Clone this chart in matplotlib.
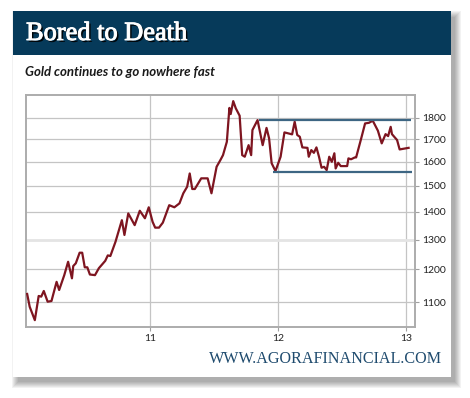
import matplotlib.pyplot as plt
import matplotlib.patheffects as pe
from matplotlib.patches import Rectangle
from matplotlib.ticker import NullLocator

# gold price (decimal year, $/oz)
years = [2010.04, 2010.06, 2010.10, 2010.13, 2010.15, 2010.17, 2010.20, 2010.23, 2010.27, 2010.29,
         2010.33, 2010.36, 2010.39, 2010.40, 2010.42, 2010.45, 2010.47, 2010.49, 2010.51, 2010.53,
         2010.57, 2010.60, 2010.65, 2010.67, 2010.69, 2010.73, 2010.78, 2010.80, 2010.83, 2010.88,
         2010.92, 2010.96, 2010.99, 2011.02, 2011.04, 2011.07, 2011.10, 2011.15, 2011.19, 2011.23,
         2011.26, 2011.29, 2011.31, 2011.33, 2011.35, 2011.40, 2011.45, 2011.48, 2011.52, 2011.55,
         2011.57, 2011.60, 2011.62, 2011.63, 2011.65, 2011.67, 2011.70, 2011.72, 2011.74, 2011.77,
         2011.79, 2011.80, 2011.84, 2011.88, 2011.91, 2011.93, 2011.95, 2011.98, 2012.02, 2012.05,
         2012.11, 2012.13, 2012.15, 2012.17, 2012.19, 2012.23, 2012.24, 2012.26, 2012.28, 2012.30,
         2012.32, 2012.34, 2012.36, 2012.38, 2012.40, 2012.42, 2012.44, 2012.45, 2012.47, 2012.49,
         2012.54, 2012.55, 2012.57, 2012.60, 2012.61, 2012.65, 2012.68, 2012.71, 2012.74, 2012.78,
         2012.81, 2012.84, 2012.86, 2012.88, 2012.89, 2012.93, 2012.95, 2013.02]
prices = [1124, 1086, 1048, 1118, 1116, 1133, 1101, 1103, 1161, 1136,
          1182, 1225, 1172, 1211, 1220, 1255, 1255, 1207, 1207, 1184,
          1182, 1204, 1228, 1246, 1244, 1292, 1369, 1316, 1394, 1351,
          1404, 1376, 1417, 1363, 1342, 1342, 1360, 1425, 1417, 1432,
          1471, 1497, 1551, 1488, 1488, 1531, 1531, 1471, 1579, 1608,
          1629, 1688, 1848, 1818, 1882, 1846, 1810, 1629, 1622, 1673,
          1629, 1742, 1789, 1673, 1752, 1704, 1594, 1561, 1622, 1731,
          1722, 1781, 1719, 1711, 1663, 1661, 1622, 1651, 1639, 1663,
          1622, 1575, 1579, 1565, 1622, 1600, 1637, 1572, 1596, 1582,
          1582, 1615, 1611, 1619, 1619, 1704, 1773, 1776, 1786, 1739,
          1681, 1723, 1714, 1757, 1723, 1696, 1654, 1661]

# trading range
range_top = 1790
range_top_span = (2011.85, 2013.04)
range_bottom = 1558
range_bottom_span = (2011.96, 2013.05)

xticks = [2011, 2012, 2013]
xtick_labels = ['11', '12', '13']
yticks = [1100, 1200, 1300, 1400, 1500, 1600, 1700, 1800]
ytick_labels = [str(v) for v in yticks]

W, H = 470, 398
fig = plt.figure(figsize=(W / 100, H / 100), dpi=100)


def box(x0, y0, x1, y1):
    return (x0 / W, 1 - y1 / H), (x1 - x0) / W, (y1 - y0) / H


# card shadow, mostly to the right and below
for i in range(7):
    xy, w, h = box(13 + 5 - i, 11 + 6 - i, 451 + 4 + i, 377 + 5 + i)
    fig.patches.append(Rectangle(xy, w, h, transform=fig.transFigure,
                                 color='black', alpha=0.05, lw=0, zorder=0))
xy, w, h = box(13, 11, 451, 377)
fig.patches.append(Rectangle(xy, w, h, transform=fig.transFigure, color='white', lw=0, zorder=1))
xy, w, h = box(13, 11, 451, 55)
fig.patches.append(Rectangle(xy, w, h, transform=fig.transFigure, color='#063a5a', lw=0, zorder=2))

fig.text(26 / W, 1 - 34 / H, 'Bored to Death', family='Liberation Serif', size=19,
         color='white', va='center', zorder=3,
         path_effects=[pe.SimplePatchShadow(offset=(1.4, -1.4), shadow_rgbFace='black', alpha=0.9),
                       pe.Stroke(linewidth=0.7, foreground='white'), pe.Normal()])
fig.text(25 / W, 1 - 72 / H, 'Gold continues to go nowhere fast', family='Lato', size=9.5,
         weight='bold', style='italic', color='#1a1a1a', va='center', zorder=3)
fig.text(442 / W, 1 - 359 / H, 'WWW.AGORAFINANCIAL.COM', family='Liberation Serif', size=11.6,
         color='#1f4b6e', ha='right', va='center', zorder=3)

ax = fig.add_axes([26 / W, 1 - 327 / H, (415 - 26) / W, (327 - 95) / H], zorder=4)
ax.set_facecolor('white')
ax.set_yscale('log')
ax.set_xlim(2010.031, 2013.07)
ax.set_ylim(1029, 1913)

ax.plot(years, prices, color='#7e1520', lw=1.6, zorder=3)
ax.hlines(range_top, *range_top_span, color='#3d6683', lw=1.6, zorder=4)
ax.hlines(range_bottom, *range_bottom_span, color='#3d6683', lw=1.6, zorder=4)

ax.yaxis.tick_right()
ax.set_yticks(yticks)
ax.set_yticklabels(ytick_labels)
ax.yaxis.set_minor_locator(NullLocator())
ax.set_xticks(xticks)
ax.set_xticklabels(xtick_labels)
ax.tick_params(length=3, color='#a0a0a0', labelsize=7.5, pad=2, labelcolor='#222222',
               labelfontfamily='Lato')
ax.grid(True, color='#c4c4c4', lw=0.9)
g = ax.get_ygridlines()[2]
g.set_color('#e4e4e4')
g.set_linewidth(2)
for s in ax.spines.values():
    s.set_color('#acacac')
    s.set_linewidth(1.4)

fig.savefig('out.png', dpi=100)
